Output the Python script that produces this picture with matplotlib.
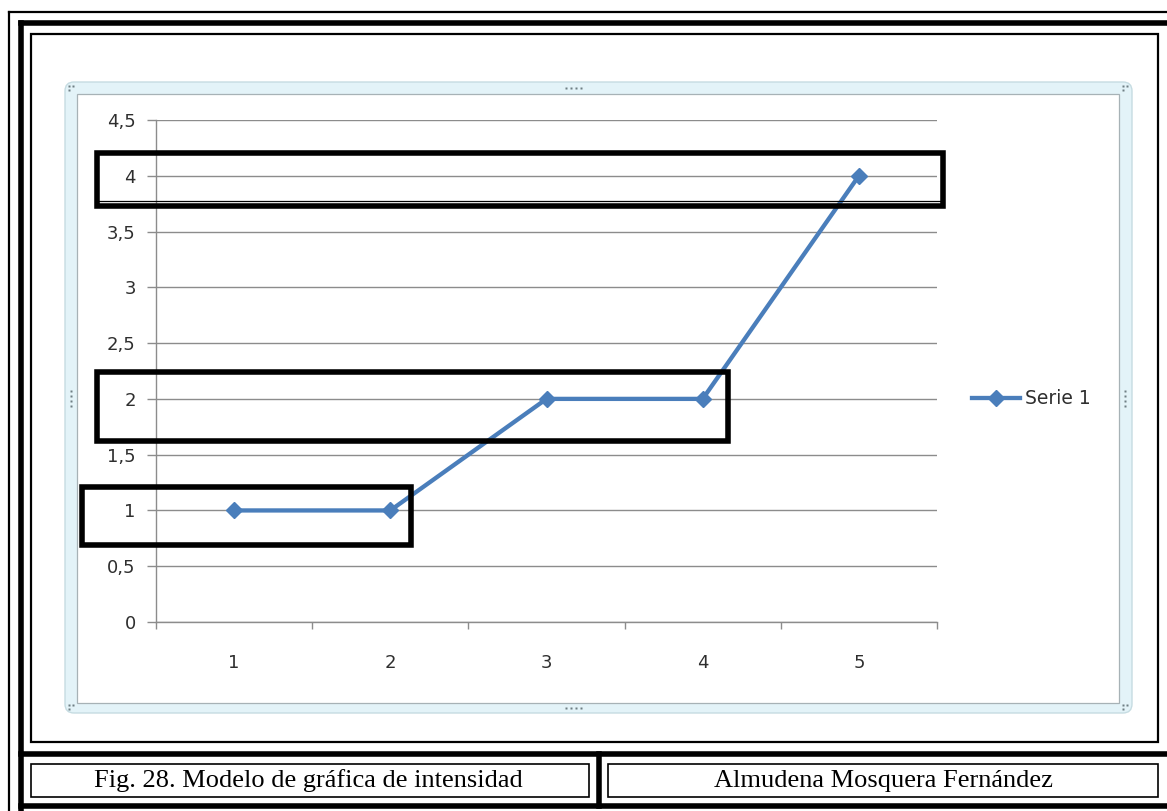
import matplotlib
matplotlib.use("Agg")
import matplotlib.pyplot as plt
from matplotlib.patches import Rectangle, FancyBboxPatch
from matplotlib.lines import Line2D

# Data
categories = [1, 2, 3, 4, 5]
serie_1 = [1, 1, 2, 2, 4]
y_ticks = [0, 0.5, 1, 1.5, 2, 2.5, 3, 3.5, 4, 4.5]
y_tick_labels = ["0", "0,5", "1", "1,5", "2", "2,5", "3", "3,5", "4", "4,5"]
series_name = "Serie 1"
caption_left = "Fig. 28. Modelo de gráfica de intensidad"
caption_right = "Almudena Mosquera Fernández"

W, H = 1167, 811
DPI = 100
fig = plt.figure(figsize=(W / DPI, H / DPI), dpi=DPI)
fig.patch.set_facecolor("white")

LINE_BLUE = "#4A7EBB"
GRID = "#8C8C8C"
TXT = "#2E2E2E"
FONT = "DejaVu Sans"
FS = 13


def px_axes(x0, y0, x1, y1, **kw):
    """Axes placed by pixel box (top-left origin)."""
    return fig.add_axes([x0 / W, 1 - y1 / H, (x1 - x0) / W, (y1 - y0) / H], **kw)


# Background layer: page borders and chart frame
bg = fig.add_axes([0, 0, 1, 1], zorder=0)
bg.set_xlim(0, W)
bg.set_ylim(H, 0)
bg.axis("off")

# outer thin frame
bg.plot([9, 9], [12, 811], color="black", lw=1.6)
bg.plot([9, 1167], [12, 12], color="black", lw=1.6)
# thick frame
bg.plot([21, 21], [23, 811], color="black", lw=4)
bg.plot([21, 1167], [23, 23], color="black", lw=4)
bg.plot([21, 1167], [806, 806], color="black", lw=4)
bg.plot([21, 1167], [754, 754], color="black", lw=4)
bg.plot([599, 599], [754, 806], color="black", lw=4)
# inner chart box
bg.add_patch(Rectangle((31, 34), 1127, 708, fill=False, ec="black", lw=1.6))
# caption boxes
bg.add_patch(Rectangle((31, 764), 558, 33, fill=False, ec="black", lw=1.2))
bg.add_patch(Rectangle((608, 764), 550, 33, fill=False, ec="black", lw=1.2))
bg.text(308, 781, caption_left, ha="center", va="center",
        fontsize=19, family="Liberation Serif", color="black")
bg.text(883, 781, caption_right, ha="center", va="center",
        fontsize=19, family="Liberation Serif", color="black")

# chart area frame (rounded, light blue band)
bg.add_patch(FancyBboxPatch((65, 82), 1067, 631,
                            boxstyle="round,pad=0,rounding_size=9",
                            fc="#E3F3F8", ec="#C6DCE2", lw=1))
bg.add_patch(Rectangle((77, 94), 1042, 609, fc="white", ec="#A7B2B6", lw=0.9))
# sizing handles
hc = "#6E7E84"
for (hx, hy) in [(71, 88), (1125, 88), (71, 707), (1125, 707)]:
    bg.plot([hx - 2, hx + 2, hx - 2], [hy - 2, hy - 2, hy + 2], "s",
            ms=2, color=hc, mec="none")
for hx in [566, 571, 576, 581]:
    bg.plot(hx, 88, "s", ms=1.5, color=hc, mec="none")
    bg.plot(hx, 708, "s", ms=1.5, color=hc, mec="none")
for hy in [391, 396, 401, 406]:
    bg.plot(71, hy, "s", ms=1.5, color=hc, mec="none")
    bg.plot(1125, hy, "s", ms=1.5, color=hc, mec="none")

# Plot area
ax = px_axes(156, 120, 937, 622, zorder=2)
ax.set_facecolor("none")
ax.plot(categories, serie_1, color=LINE_BLUE, lw=3.1, marker="D",
        ms=8, mfc=LINE_BLUE, mec=LINE_BLUE, label=series_name,
        solid_joinstyle="round", clip_on=False)
ax.set_xlim(0.5, 5.5)
ax.set_ylim(0, 4.5)
ax.set_yticks(y_ticks)
ax.set_yticklabels(y_tick_labels, family=FONT, fontsize=FS, color=TXT)
ax.set_xticks(categories)
ax.set_xticklabels([str(c) for c in categories], family=FONT,
                   fontsize=FS, color=TXT)
ax.set_xticks([0.5, 1.5, 2.5, 3.5, 4.5, 5.5], minor=True)
ax.tick_params(axis="x", which="major", length=0, pad=23)
ax.tick_params(axis="x", which="minor", length=5, color=GRID, width=1, direction="out")
ax.tick_params(axis="y", length=6.5, color=GRID, width=1, pad=8)
ax.yaxis.grid(True, color=GRID, lw=1)
ax.set_axisbelow(True)
for s in ["top", "right"]:
    ax.spines[s].set_visible(False)
for s in ["left", "bottom"]:
    ax.spines[s].set_color(GRID)
    ax.spines[s].set_linewidth(1)

# legend
leg = fig.legend(handles=[Line2D([], [], color=LINE_BLUE, lw=3.1, marker="D",
                                 ms=8, label=series_name)],
                 loc="center left", bbox_to_anchor=(972 / W, 1 - 399 / H),
                 frameon=False, handlelength=2.56, handletextpad=0.27,
                 borderaxespad=0, borderpad=0,
                 prop={"family": FONT, "size": 13.5})
for t in leg.get_texts():
    t.set_color(TXT)

# Foreground: highlight boxes
fg = fig.add_axes([0, 0, 1, 1], zorder=5)
fg.set_xlim(0, W)
fg.set_ylim(H, 0)
fg.axis("off")
fg.patch.set_alpha(0)
for (x0, y0, x1, y1) in [(97, 153, 943, 206), (97, 372, 728, 441), (82, 487, 411, 545)]:
    fg.add_patch(Rectangle((x0, y0), x1 - x0, y1 - y0, fill=False,
                           ec="black", lw=4, joinstyle="miter"))
# thin inner rule along the bottom of the top box
fg.plot([99, 941], [201, 201], color="black", lw=0.9)

fig.savefig("out.png", dpi=DPI, facecolor="white")
